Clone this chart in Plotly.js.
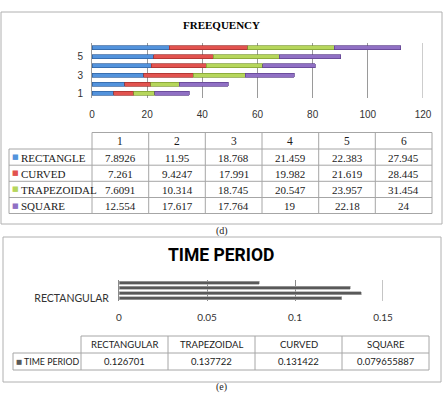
<!DOCTYPE html>
<html><head><meta charset="utf-8">
<script src="https://cdn.plot.ly/plotly-3.0.1.min.js"></script>
<style>html,body{margin:0;padding:0;background:#fff}</style>
</head><body><div id="chart" style="width:444px;height:393px"></div>
<script>
// Frequency per case (1..6) for each channel shape
const caseLabels = [1, 2, 3, 4, 5, 6];
const shapeNames = ['RECTANGLE', 'CURVED', 'TRAPEZOIDAL', 'SQUARE'];
const rectangleFreq = [7.8926, 11.95, 18.768, 21.459, 22.383, 27.945];
const curvedFreq = [7.261, 9.4247, 17.991, 19.982, 21.619, 28.445];
const trapezoidalFreq = [7.6091, 10.314, 18.745, 20.547, 23.957, 31.454];
const squareFreq = [12.554, 17.617, 17.764, 19, 22.18, 24];
const freqTickVals = [0, 20, 40, 60, 80, 100, 120];
const freqCaseTicks = [1, 3, 5];

// Time period per shape
const periodCategories = ['RECTANGULAR', 'TRAPEZOIDAL', 'CURVED', 'SQUARE'];
const periodValues = [0.126701, 0.137722, 0.131422, 0.079655887];
const periodSeriesName = 'TIME PERIOD';
const periodTickVals = [0, 0.05, 0.1, 0.15];
const periodTickText = ['0', '0.05', '0.1', '0.15'];

const W = 444, H = 393;
const px = x => x / W;
const py = y => 1 - y / H;

const freqSeries = [rectangleFreq, curvedFreq, trapezoidalFreq, squareFreq];
const fills = ['#5393dc', '#e2534f', '#b6d65c', '#9070c4'];
const edges = ['#2f609c', '#a02f2c', '#7c9a30', '#5c3f8c'];

const traces = freqSeries.map((vals, i) => ({
  type: 'bar', orientation: 'h', name: shapeNames[i],
  x: vals, y: caseLabels, width: 0.42,
  xaxis: 'x', yaxis: 'y',
  marker: {color: fills[i], line: {color: edges[i], width: 0.7}},
  hoverinfo: 'skip', showlegend: false
}));

traces.push({
  type: 'bar', orientation: 'h', name: periodSeriesName,
  x: periodValues, y: periodCategories, width: 0.55,
  xaxis: 'x2', yaxis: 'y2',
  marker: {color: '#595959', line: {color: '#a8a8a8', width: 0.7}},
  hoverinfo: 'skip', showlegend: false
});

const shapes = [];
const annotations = [];
const gray = '#a6a6a6';
function hline(y, x0, x1, c) {
  shapes.push({type: 'line', xref: 'paper', yref: 'paper', x0: px(x0), x1: px(x1), y0: py(y), y1: py(y), line: {color: c || gray, width: 1}});
}
function vline(x, y0, y1, c) {
  shapes.push({type: 'line', xref: 'paper', yref: 'paper', x0: px(x), x1: px(x), y0: py(y0), y1: py(y1), line: {color: c || gray, width: 1}});
}
function label(text, x, y, opts) {
  annotations.push(Object.assign({
    xref: 'paper', yref: 'paper', x: px(x), y: py(y), text: text, showarrow: false,
    xanchor: 'center', yanchor: 'middle', borderpad: 0,
    font: {family: 'Liberation Serif', size: 11, color: '#1a1a1a'}
  }, opts || {}));
}

// Closing gridline at the far end of each value axis
shapes.push({type: 'line', xref: 'x', yref: 'y domain', x0: 120, x1: 120, y0: 0, y1: 1, line: {color: '#9a9a9a', width: 1}, layer: 'below'});
shapes.push({type: 'line', xref: 'x2', yref: 'y2 domain', x0: 0.15, x1: 0.15, y0: 0, y1: 1, line: {color: '#8a8a8a', width: 1}, layer: 'below'});

// Outer frames of the two panels
shapes.push({type: 'rect', xref: 'paper', yref: 'paper', x0: px(1), x1: px(442), y0: py(224), y1: py(12), line: {color: '#b0b0b0', width: 1}});
shapes.push({type: 'rect', xref: 'paper', yref: 'paper', x0: px(3), x1: px(441), y0: py(382), y1: py(237), line: {color: '#b0b0b0', width: 1}});

// Titles and captions
label('<b>FREEQUENCY</b>', 221, 25, {font: {family: 'Liberation Serif', size: 11, color: '#000'}});
label('TIME PERIOD', 221, 255, {font: {family: 'Roboto', size: 17.5, color: '#000', weight: 'bold'}});
label('(d)', 222, 231, {font: {family: 'Liberation Serif', size: 10, color: '#222'}});
label('(e)', 221, 387, {font: {family: 'Liberation Serif', size: 10, color: '#222'}});

// Frequency data table
const fCols = [92, 148.7, 205.3, 262, 318.7, 375.3, 432];
const fRows = [132.5, 149, 165.2, 181.3, 197.5, 213.5];
hline(fRows[0], fCols[0], fCols[6]);
for (let r = 1; r < fRows.length; r++) hline(fRows[r], 9, fCols[6]);
vline(9, fRows[1], fRows[5]);
fCols.forEach(x => vline(x, fRows[0], fRows[5]));
caseLabels.forEach((c, j) => label(String(c), (fCols[j] + fCols[j + 1]) / 2, (fRows[0] + fRows[1]) / 2 + 0.5, {font: {family: 'Liberation Serif', size: 11.5, color: '#1a1a1a'}}));
shapeNames.forEach((name, i) => {
  const yc = (fRows[i + 1] + fRows[i + 2]) / 2 + 0.5;
  label('■', 11, yc - 0.5, {xanchor: 'left', font: {family: 'DejaVu Sans', size: 7, color: fills[i]}});
  label(name, 19.5, yc, {xanchor: 'left'});
  freqSeries[i].forEach((v, j) => label(String(v), (fCols[j] + fCols[j + 1]) / 2, yc));
});

// Time period data table
const pCols = [81, 168, 255, 342, 429];
const pRows = [336, 353, 370];
hline(pRows[0], pCols[0], pCols[4]);
hline(pRows[1], 13, pCols[4]);
hline(pRows[2], 13, pCols[4]);
vline(13, pRows[1], pRows[2]);
pCols.forEach(x => vline(x, pRows[0], pRows[2]));
const sansSmall = {family: 'Lato', size: 9.5, color: '#222'};
periodCategories.forEach((c, j) => {
  label(c, (pCols[j] + pCols[j + 1]) / 2, (pRows[0] + pRows[1]) / 2, {font: sansSmall});
  label(String(periodValues[j]), (pCols[j] + pCols[j + 1]) / 2, (pRows[1] + pRows[2]) / 2, {font: sansSmall});
});
label('■', 15, (pRows[1] + pRows[2]) / 2, {xanchor: 'left', font: {family: 'DejaVu Sans', size: 6.5, color: '#595959'}});
label(periodSeriesName, 23, (pRows[1] + pRows[2]) / 2, {xanchor: 'left', font: {family: 'Lato', size: 8.8, color: '#222'}});

const tickFont = {family: 'Liberation Sans', size: 10, color: '#333'};

const layout = {
  width: W, height: H,
  margin: {l: 0, r: 0, t: 0, b: 0},
  paper_bgcolor: '#fff', plot_bgcolor: '#fff',
  barmode: 'stack', showlegend: false,
  xaxis: {
    domain: [px(92), px(423)], range: [0, 120], anchor: 'y',
    tickvals: freqTickVals, showgrid: true, gridcolor: '#9a9a9a', gridwidth: 1,
    zeroline: false, showline: false, ticks: '', ticklabelstandoff: 9,
    tickfont: tickFont, fixedrange: true
  },
  yaxis: {
    domain: [py(98), py(43)], range: [0.5, 6.5], anchor: 'x',
    tickvals: freqCaseTicks, showgrid: false, zeroline: false,
    showline: true, linecolor: '#9a9a9a', linewidth: 1,
    ticks: '', ticklabelstandoff: 6, tickfont: tickFont, fixedrange: true
  },
  xaxis2: {
    domain: [px(119), px(383)], range: [0, 0.15], anchor: 'y2',
    tickvals: periodTickVals, ticktext: periodTickText,
    showgrid: true, gridcolor: '#8a8a8a', gridwidth: 1,
    zeroline: false, showline: false, ticks: '', ticklabelstandoff: 9,
    tickfont: {family: 'Lato', size: 10, color: '#333'}, fixedrange: true
  },
  yaxis2: {
    domain: [py(301), py(280)], anchor: 'x2', type: 'category',
    categoryorder: 'array', categoryarray: periodCategories,
    tickvals: ['RECTANGULAR'], showgrid: false, zeroline: false,
    showline: true, linecolor: '#8a8a8a', linewidth: 1,
    ticks: '', ticklabelstandoff: 7,
    tickfont: {family: 'Lato', size: 10.5, color: '#333'}, fixedrange: true
  },
  shapes: shapes,
  annotations: annotations
};

Plotly.newPlot('chart', traces, layout, {staticPlot: true, displayModeBar: false});
</script>
</body></html>
